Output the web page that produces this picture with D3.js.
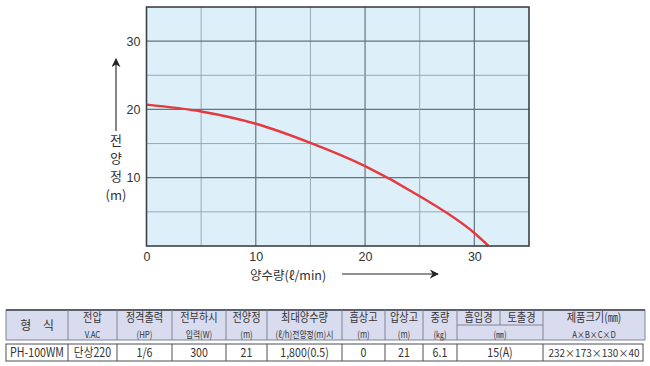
<!DOCTYPE html>
<html><head><meta charset="utf-8">
<script src="https://cdn.jsdelivr.net/npm/d3@7"></script>
<style>
body{margin:0;background:#fff;}
svg{display:block;font-family:"Liberation Sans","Noto Sans CJK KR",sans-serif;}
</style></head>
<body><svg id="c" width="650" height="366"></svg>
<script>
// ---- data ----
const flow = [0, 5, 10, 15, 20, 25, 30, 31.3];        // ℓ/min
const head = [20.7, 19.7, 17.9, 15.1, 11.7, 7.3, 1.9, 0]; // m
const xTicks = [0, 10, 20, 30];
const yTicks = [10, 20, 30];
const xTitle = "양수량(ℓ/min)";
const yTitle = ["전", "양", "정", "(m)"];

const headTop = ["형　식", "전압", "정격출력", "전부하시", "전양정", "최대양수량", "흡상고", "압상고", "중량", "", "제품크기(㎜)"];
const headSub = ["", "V.AC", "(HP)", "입력(W)", "(m)", "(ℓ/h)전양정(m)시", "(m)", "(m)", "(㎏)", "(㎜)", "A×B×C×D"];
const splitTop = ["흡입경", "토출경"];
const rowVals = ["PH-100WM", "단상220", "1/6", "300", "21", "1,800(0.5)", "0", "21", "6.1", "15(A)", "232×173×130×40"];

const svg = d3.select("#c");
const L = 146.5, R = 529, T = 7, B = 246;
const x = d3.scaleLinear().domain([0, 35]).range([L, R]);
const y = d3.scaleLinear().domain([0, 35]).range([B, T]);

// background
svg.append("rect").attr("x", L).attr("y", T).attr("width", R - L).attr("height", B - T).attr("fill", "#ddf0fa");

// grid
const g = svg.append("g");
d3.range(5, 35, 5).forEach(v => {
  const major = v % 10 === 0;
  g.append("line").attr("x1", x(v)).attr("x2", x(v)).attr("y1", T).attr("y2", B)
    .attr("stroke", major ? "#65737e" : "#98a9b6").attr("stroke-width", major ? 1.2 : 1);
  g.append("line").attr("y1", y(v)).attr("y2", y(v)).attr("x1", L).attr("x2", R)
    .attr("stroke", major ? "#65737e" : "#98a9b6").attr("stroke-width", major ? 1.2 : 1);
});

// curve
const line = d3.line().x((d, i) => x(flow[i])).y(d => y(d)).curve(d3.curveMonotoneX);
svg.append("path").attr("d", line(head)).attr("fill", "none").attr("stroke", "#e5393f").attr("stroke-width", 2.4);

// frame
svg.append("rect").attr("x", L).attr("y", T).attr("width", R - L).attr("height", B - T)
  .attr("fill", "none").attr("stroke", "#3d4247").attr("stroke-width", 1.6);

// axes (labels only)
const xa = svg.append("g").attr("transform", `translate(0,${B})`).call(d3.axisBottom(x).tickValues(xTicks).tickSize(0).tickPadding(6));
const ya = svg.append("g").attr("transform", `translate(${L},0)`).call(d3.axisLeft(y).tickValues(yTicks).tickSize(0).tickPadding(6));
[xa, ya].forEach(a => {
  a.select(".domain").remove();
  a.selectAll("text").attr("font-size", 12.5).attr("fill", "#333").attr("font-family", "Liberation Sans, sans-serif");
});

// arrow marker
const defs = svg.append("defs");
defs.append("marker").attr("id", "ah").attr("viewBox", "0 0 10 10").attr("refX", 9).attr("refY", 5)
  .attr("markerWidth", 9).attr("markerHeight", 9).attr("markerUnits", "userSpaceOnUse").attr("orient", "auto")
  .append("path").attr("d", "M0,0 L10,5 L0,10 L3,5 Z").attr("fill", "#222");

// y title
svg.append("line").attr("x1", 116).attr("x2", 116).attr("y1", 131).attr("y2", 59)
  .attr("stroke", "#222").attr("stroke-width", 1.1).attr("marker-end", "url(#ah)");
svg.append("g").selectAll("text").data(yTitle).join("text")
  .attr("x", 116).attr("y", (d, i) => 145 + i * 18.2).attr("text-anchor", "middle")
  .attr("font-size", 13).attr("fill", "#333").attr("font-family", "Noto Sans CJK KR, sans-serif").text(d => d);

// x title
svg.append("text").attr("x", 250).attr("y", 280).attr("font-size", 12.5).attr("fill", "#333")
  .attr("font-family", "Noto Sans CJK KR, sans-serif").text(xTitle);
svg.append("line").attr("x1", 342).attr("x2", 438).attr("y1", 274).attr("y2", 274)
  .attr("stroke", "#222").attr("stroke-width", 1.1).attr("marker-end", "url(#ah)");

// ---- table ----
const cols = [6, 68, 117, 172, 226, 267, 342, 385, 423, 457, 543, 645];
const hTop = 310, hBot = 340, rTop = 344, rBot = 361;
const tg = svg.append("g").attr("font-family", "Noto Sans CJK KR, sans-serif").attr("fill", "#333");
tg.append("rect").attr("x", cols[0]).attr("y", hTop).attr("width", cols[11] - cols[0]).attr("height", hBot - hTop)
  .attr("fill", "#d9dcef").attr("stroke", "#7d8494").attr("stroke-width", 1);
tg.append("line").attr("x1", cols[0]).attr("x2", cols[11]).attr("y1", hTop).attr("y2", hTop).attr("stroke", "#5a6070").attr("stroke-width", 2);
tg.append("line").attr("x1", cols[9]).attr("x2", cols[10]).attr("y1", 325).attr("y2", 325).attr("stroke", "#7d8494");
tg.append("line").attr("x1", 500).attr("x2", 500).attr("y1", hTop).attr("y2", 325).attr("stroke", "#7d8494");
tg.append("rect").attr("x", cols[0]).attr("y", rTop).attr("width", cols[11] - cols[0] - 2).attr("height", rBot - rTop)
  .attr("fill", "#fff").attr("stroke", "#4a4f58").attr("stroke-width", 1);
cols.slice(1, 11).forEach(c => {
  tg.append("line").attr("x1", c).attr("x2", c).attr("y1", hTop).attr("y2", hBot).attr("stroke", "#7d8494");
  tg.append("line").attr("x1", c).attr("x2", c).attr("y1", rTop).attr("y2", rBot).attr("stroke", "#4a4f58");
});

// condensed text helper: shrink font so the natural width fits, then squeeze horizontally
function put(cx, yy, t, fs, maxW, squeeze) {
  const el = tg.append("text").attr("x", cx).attr("y", yy).attr("text-anchor", "middle")
    .attr("font-size", fs).text(t);
  let w = el.node().getComputedTextLength();
  if (w > maxW) {
    fs = fs * maxW / w;
    el.attr("font-size", fs);
    w = el.node().getComputedTextLength();
    squeeze = Math.max(squeeze, 0.95);
  }
  el.attr("textLength", w * squeeze).attr("lengthAdjust", "spacingAndGlyphs");
  return el;
}

headTop.forEach((t, i) => {
  const cx = (cols[i] + cols[i + 1]) / 2, cw = cols[i + 1] - cols[i] - 4;
  if (headSub[i] === "") {
    put(cx, 329.5, t, 12.5, cw, 0.95);
  } else {
    if (t) put(cx, 321.5, t, 12, cw / 0.85, 0.85);
    put(cx, 337.5, headSub[i], 9.5, cw / 0.82, 0.82);
  }
});
splitTop.forEach((t, i) => {
  const a = i === 0 ? cols[9] : 500, b = i === 0 ? 500 : cols[10];
  put((a + b) / 2, 321.5, t, 12, b - a - 6, 0.85);
});
rowVals.forEach((t, i) => {
  const cw = cols[i + 1] - cols[i] - 6;
  put((cols[i] + cols[i + 1]) / 2, 357, t, 12.5, i === 10 ? cw : cw / 0.85, 0.85);
});
</script></body></html>
